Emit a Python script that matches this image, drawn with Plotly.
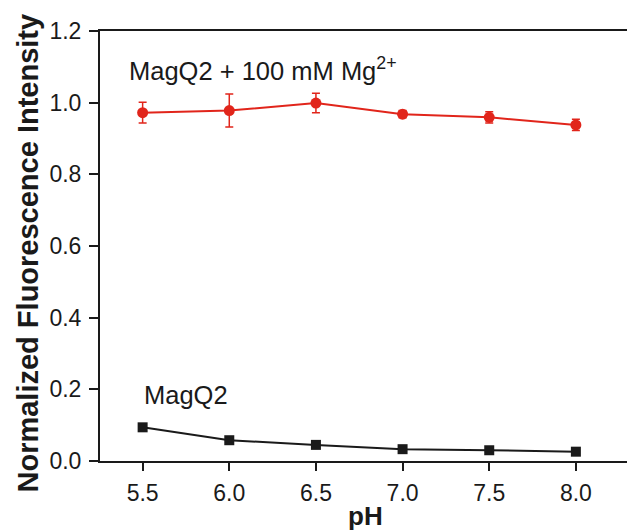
import plotly.graph_objects as go

ph = [5.5, 6.0, 6.5, 7.0, 7.5, 8.0]
mg_values = [0.972, 0.978, 0.999, 0.968, 0.959, 0.938]
mg_errors = [0.029, 0.046, 0.027, 0.010, 0.016, 0.016]
free_values = [0.094, 0.058, 0.045, 0.033, 0.030, 0.026]
x_ticks = [5.5, 6.0, 6.5, 7.0, 7.5, 8.0]
x_tick_labels = ["5.5", "6.0", "6.5", "7.0", "7.5", "8.0"]
y_ticks = [0.0, 0.2, 0.4, 0.6, 0.8, 1.0, 1.2]
y_tick_labels = ["0.0", "0.2", "0.4", "0.6", "0.8", "1.0", "1.2"]

RED = "#e1251b"
BLACK = "#1a1a1a"
FONT = "Liberation Sans, Arial, sans-serif"

W, H = 627, 531
ML, MR, MT, MB = 100, 0, 31, 70
PW, PH_ = W - ML - MR, H - MT - MB


def px_to_paper_x(px):
    return (px - ML) / PW


def px_to_paper_y(py):
    return (H - MB - py) / PH_


fig = go.Figure()
fig.add_trace(go.Scatter(
    x=ph, y=free_values, mode="lines+markers",
    line=dict(color=BLACK, width=2),
    marker=dict(symbol="square", size=10, color=BLACK),
    showlegend=False, cliponaxis=False,
))
fig.add_trace(go.Scatter(
    x=ph, y=mg_values, mode="lines+markers",
    line=dict(color=RED, width=2),
    marker=dict(symbol="circle", size=11, color=RED),
    error_y=dict(type="data", array=mg_errors, visible=True, color=RED, thickness=1.5, width=4),
    showlegend=False, cliponaxis=False,
))

fig.add_annotation(x=5.41, y=1.095, xref="x", yref="y", xanchor="left", yanchor="middle",
                   text="MagQ2 + 100 mM Mg<sup>2+</sup>", showarrow=False,
                   font=dict(family=FONT, size=25.5, color=BLACK))
fig.add_annotation(x=5.498, y=0.184, xref="x", yref="y", xanchor="left", yanchor="middle",
                   text="MagQ2", showarrow=False,
                   font=dict(family=FONT, size=25.5, color=BLACK))

# axis titles
fig.add_annotation(x=px_to_paper_x(365), y=px_to_paper_y(516), xref="paper", yref="paper",
                   xanchor="center", yanchor="middle", text="<b>pH</b>", showarrow=False,
                   font=dict(family=FONT, size=26, color=BLACK))
fig.add_annotation(x=px_to_paper_x(27), y=px_to_paper_y(253.5), xref="paper", yref="paper",
                   xanchor="center", yanchor="middle", textangle=-90,
                   text="<b>Normalized Fluorescence Intensity</b>", showarrow=False,
                   font=dict(family=FONT, size=29, color=BLACK))

fig.update_layout(
    width=W, height=H,
    margin=dict(l=ML, r=MR, t=MT, b=MB),
    paper_bgcolor="white", plot_bgcolor="white",
    font=dict(family=FONT, color=BLACK),
    xaxis=dict(
        range=[5.254, 8.295], tickvals=x_ticks, ticktext=x_tick_labels,
        showgrid=False, zeroline=False, showline=True, linecolor=BLACK, linewidth=2,
        mirror=True, ticks="outside", ticklen=8, tickwidth=1.5, tickcolor=BLACK,
        tickfont=dict(family=FONT, size=23, color=BLACK), ticklabelstandoff=2,
    ),
    yaxis=dict(
        range=[0, 1.2], tickvals=y_ticks, ticktext=y_tick_labels,
        showgrid=False, zeroline=False, showline=True, linecolor=BLACK, linewidth=2,
        ticks="outside", ticklen=9, tickwidth=1.5, tickcolor=BLACK,
        tickfont=dict(family=FONT, size=23, color=BLACK), ticklabelstandoff=3,
    ),
)

fig.write_html("out.html")
